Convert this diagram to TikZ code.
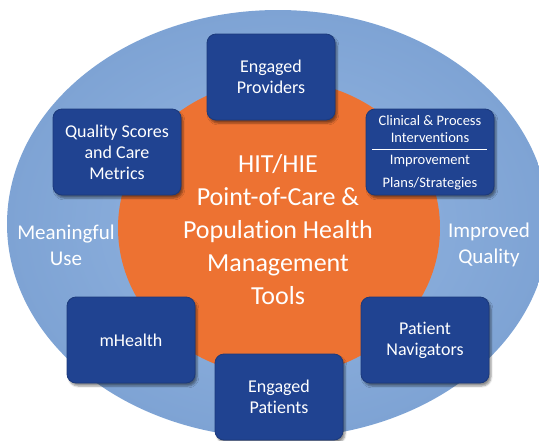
\documentclass[tikz,border=0pt]{standalone}
\usepackage{fontspec}
\setmainfont{Carlito}[Ligatures=NoCommon]
\usetikzlibrary{shadows.blur}

\definecolor{fieldblue}{RGB}{148,182,226}
\definecolor{rimblue}{RGB}{126,163,212}
\definecolor{carrot}{RGB}{237,114,50}
\definecolor{boxblue}{RGB}{32,67,145}

\tikzset{
  tile/.style={fill=boxblue, draw=boxblue!85!black, line width=0.8pt,
    rounded corners=9pt, minimum width=128pt, minimum height=86pt,
    text=white, align=center, font=\fontsize{18}{21}\selectfont,
    blur shadow={shadow xshift=2pt, shadow yshift=-3pt, shadow opacity=45}},
  tinytext/.style={text=white, inner sep=0pt, font=\fontsize{14.5}{17}\selectfont},
  sidetext/.style={text=white, align=center, font=\fontsize{21}{26}\selectfont}
}

\begin{document}
\begin{tikzpicture}[x=1pt,y=-1pt]
  \useasboundingbox (0,0) rectangle (539,440);
  \clip (0,0) rectangle (539,440);

  % outer field and the orange core
  \shade[inner color=fieldblue, outer color=rimblue] (278,224) ellipse (271 and 214);
  \fill[carrot] (279,228) ellipse (161 and 148);

  % the six tiles round the core
  \node[tile] (providers)  at (271,77)  {Engaged\\Providers};
  \node[tile] (quality)    at (117,152) {Quality Scores\\and Care\\Metrics};
  \node[tile] (clinical)   at (430,152) {};
  \node[tile] (mhealth)    at (131,340) {mHealth};
  \node[tile] (navigators) at (425,340) {Patient\\Navigators};
  \node[tile] (patients)   at (279,397) {Engaged\\Patients};

  % split text inside the clinical tile
  \node[tinytext] (clin1) at (430,121) {Clinical \& Process};
  \node[tinytext] (clin2) at (430,138) {Interventions};
  \node[tinytext] (clin3) at (430,161) {Improvement};
  \node[tinytext] (clin4) at (430,184) {Plans/Strategies};
  \coordinate (ruleL) at (372,149.5);
  \coordinate (ruleR) at (487,149.5);
  \draw[white, line width=0.8pt] (ruleL) -- (ruleR);

  % core title
  \node[text=white, align=center, font=\fontsize{26}{33}\selectfont] (core) at (278,230)
    {HIT/HIE\\Point-of-Care \&\\Population Health\\Management\\Tools};

  % outcomes on either side
  \node[sidetext] (use)     at (66,245)  {Meaningful\\Use};
  \node[sidetext] (improve) at (489,245) {Improved\\Quality};
\end{tikzpicture}
\end{document}
